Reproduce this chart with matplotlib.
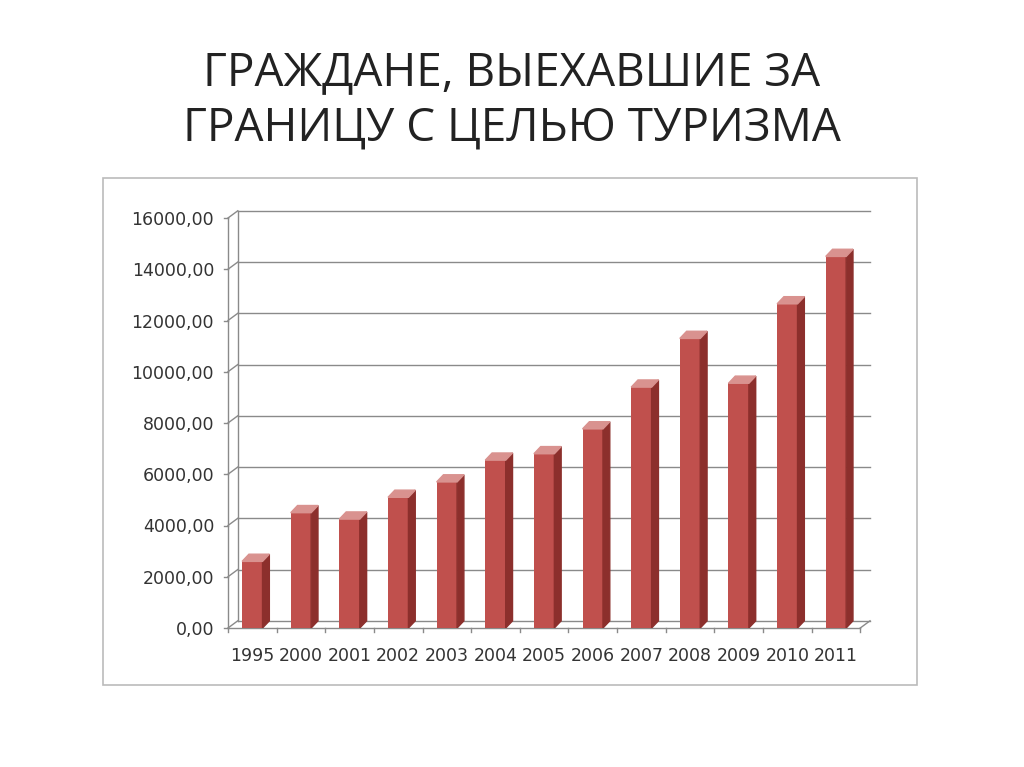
import matplotlib
matplotlib.use("Agg")
import matplotlib.pyplot as plt
from matplotlib.patches import Polygon, Rectangle

years = ["1995", "2000", "2001", "2002", "2003", "2004", "2005",
         "2006", "2007", "2008", "2009", "2010", "2011"]
values = [2600, 4500, 4250, 5100, 5700, 6550, 6800,
          7770, 9400, 11300, 9550, 12650, 14500]
yticks = list(range(0, 16001, 2000))

FRONT = "#C0504D"
SIDE = "#8C2F2C"
TOP = "#D9928F"
DX, DY = 0.2, 280  # fake depth in data units
W = 0.42

fig = plt.figure(figsize=(10.24, 7.67), dpi=100)
fig.text(0.5, 0.905, "ГРАЖДАНЕ, ВЫЕХАВШИЕ ЗА", ha="center", va="center",
         fontsize=33, family="Open Sans", color="#222222")
fig.text(0.5, 0.832, "ГРАНИЦУ С ЦЕЛЬЮ ТУРИЗМА", ha="center", va="center",
         fontsize=33, family="Open Sans", color="#222222")

# outer chart frame
fig.patches.append(Rectangle((103 / 1024, 1 - 685 / 767), 814 / 1024, 507 / 767,
                             transform=fig.transFigure, fill=False,
                             edgecolor="#BBBBBB", lw=1.2))

ax = fig.add_axes([228 / 1024, 1 - 628 / 767, 642 / 1024, 410 / 767])
n = len(years)
ax.set_xlim(-0.5, n - 0.5 + DX)
ax.set_ylim(0, 16000)

# back-wall gridlines with a slanted left piece
for t in yticks:
    ax.plot([-0.5, -0.5 + DX], [t, t + DY], color="#8A8A8A", lw=1, clip_on=False)
    ax.plot([-0.5 + DX, n - 0.5 + DX], [t + DY, t + DY], color="#8A8A8A", lw=1, clip_on=False)
ax.plot([-0.5 + DX, -0.5 + DX], [DY, 16000 + DY], color="#8A8A8A", lw=1, clip_on=False)
ax.plot([-0.5, -0.5], [0, 16000], color="#8A8A8A", lw=1, clip_on=False)
ax.plot([-0.5, n - 0.5], [0, 0], color="#8A8A8A", lw=1, clip_on=False)
ax.plot([n - 0.5, n - 0.5 + DX], [0, DY], color="#8A8A8A", lw=1, clip_on=False)
for i in range(n + 1):
    ax.plot([i - 0.5, i - 0.5], [0, -150], color="#8A8A8A", lw=1, clip_on=False)
for t in yticks:
    ax.plot([-0.5, -0.58], [t, t], color="#8A8A8A", lw=1, clip_on=False)

ax.bar(range(n), values, width=W, color=FRONT, zorder=3)
for i, v in enumerate(values):
    r, l = i + W / 2, i - W / 2
    ax.add_patch(Polygon([(r, 0), (r + DX * 0.7, DY), (r + DX * 0.7, v + DY), (r, v)],
                         closed=True, color=SIDE, zorder=3))
    ax.add_patch(Polygon([(l, v), (l + DX * 0.7, v + DY), (r + DX * 0.7, v + DY), (r, v)],
                         closed=True, color=TOP, zorder=3))

ax.set_xticks(range(n))
ax.set_xticklabels(years)
ax.set_yticks(yticks)
ax.set_yticklabels([f"{t},00" for t in yticks])
ax.tick_params(length=0, labelsize=12.5, colors="#333333", pad=10)
ax.tick_params(axis="x", pad=14)
for s in ax.spines.values():
    s.set_visible(False)
ax.patch.set_alpha(0)

fig.savefig("out.png", dpi=100)
